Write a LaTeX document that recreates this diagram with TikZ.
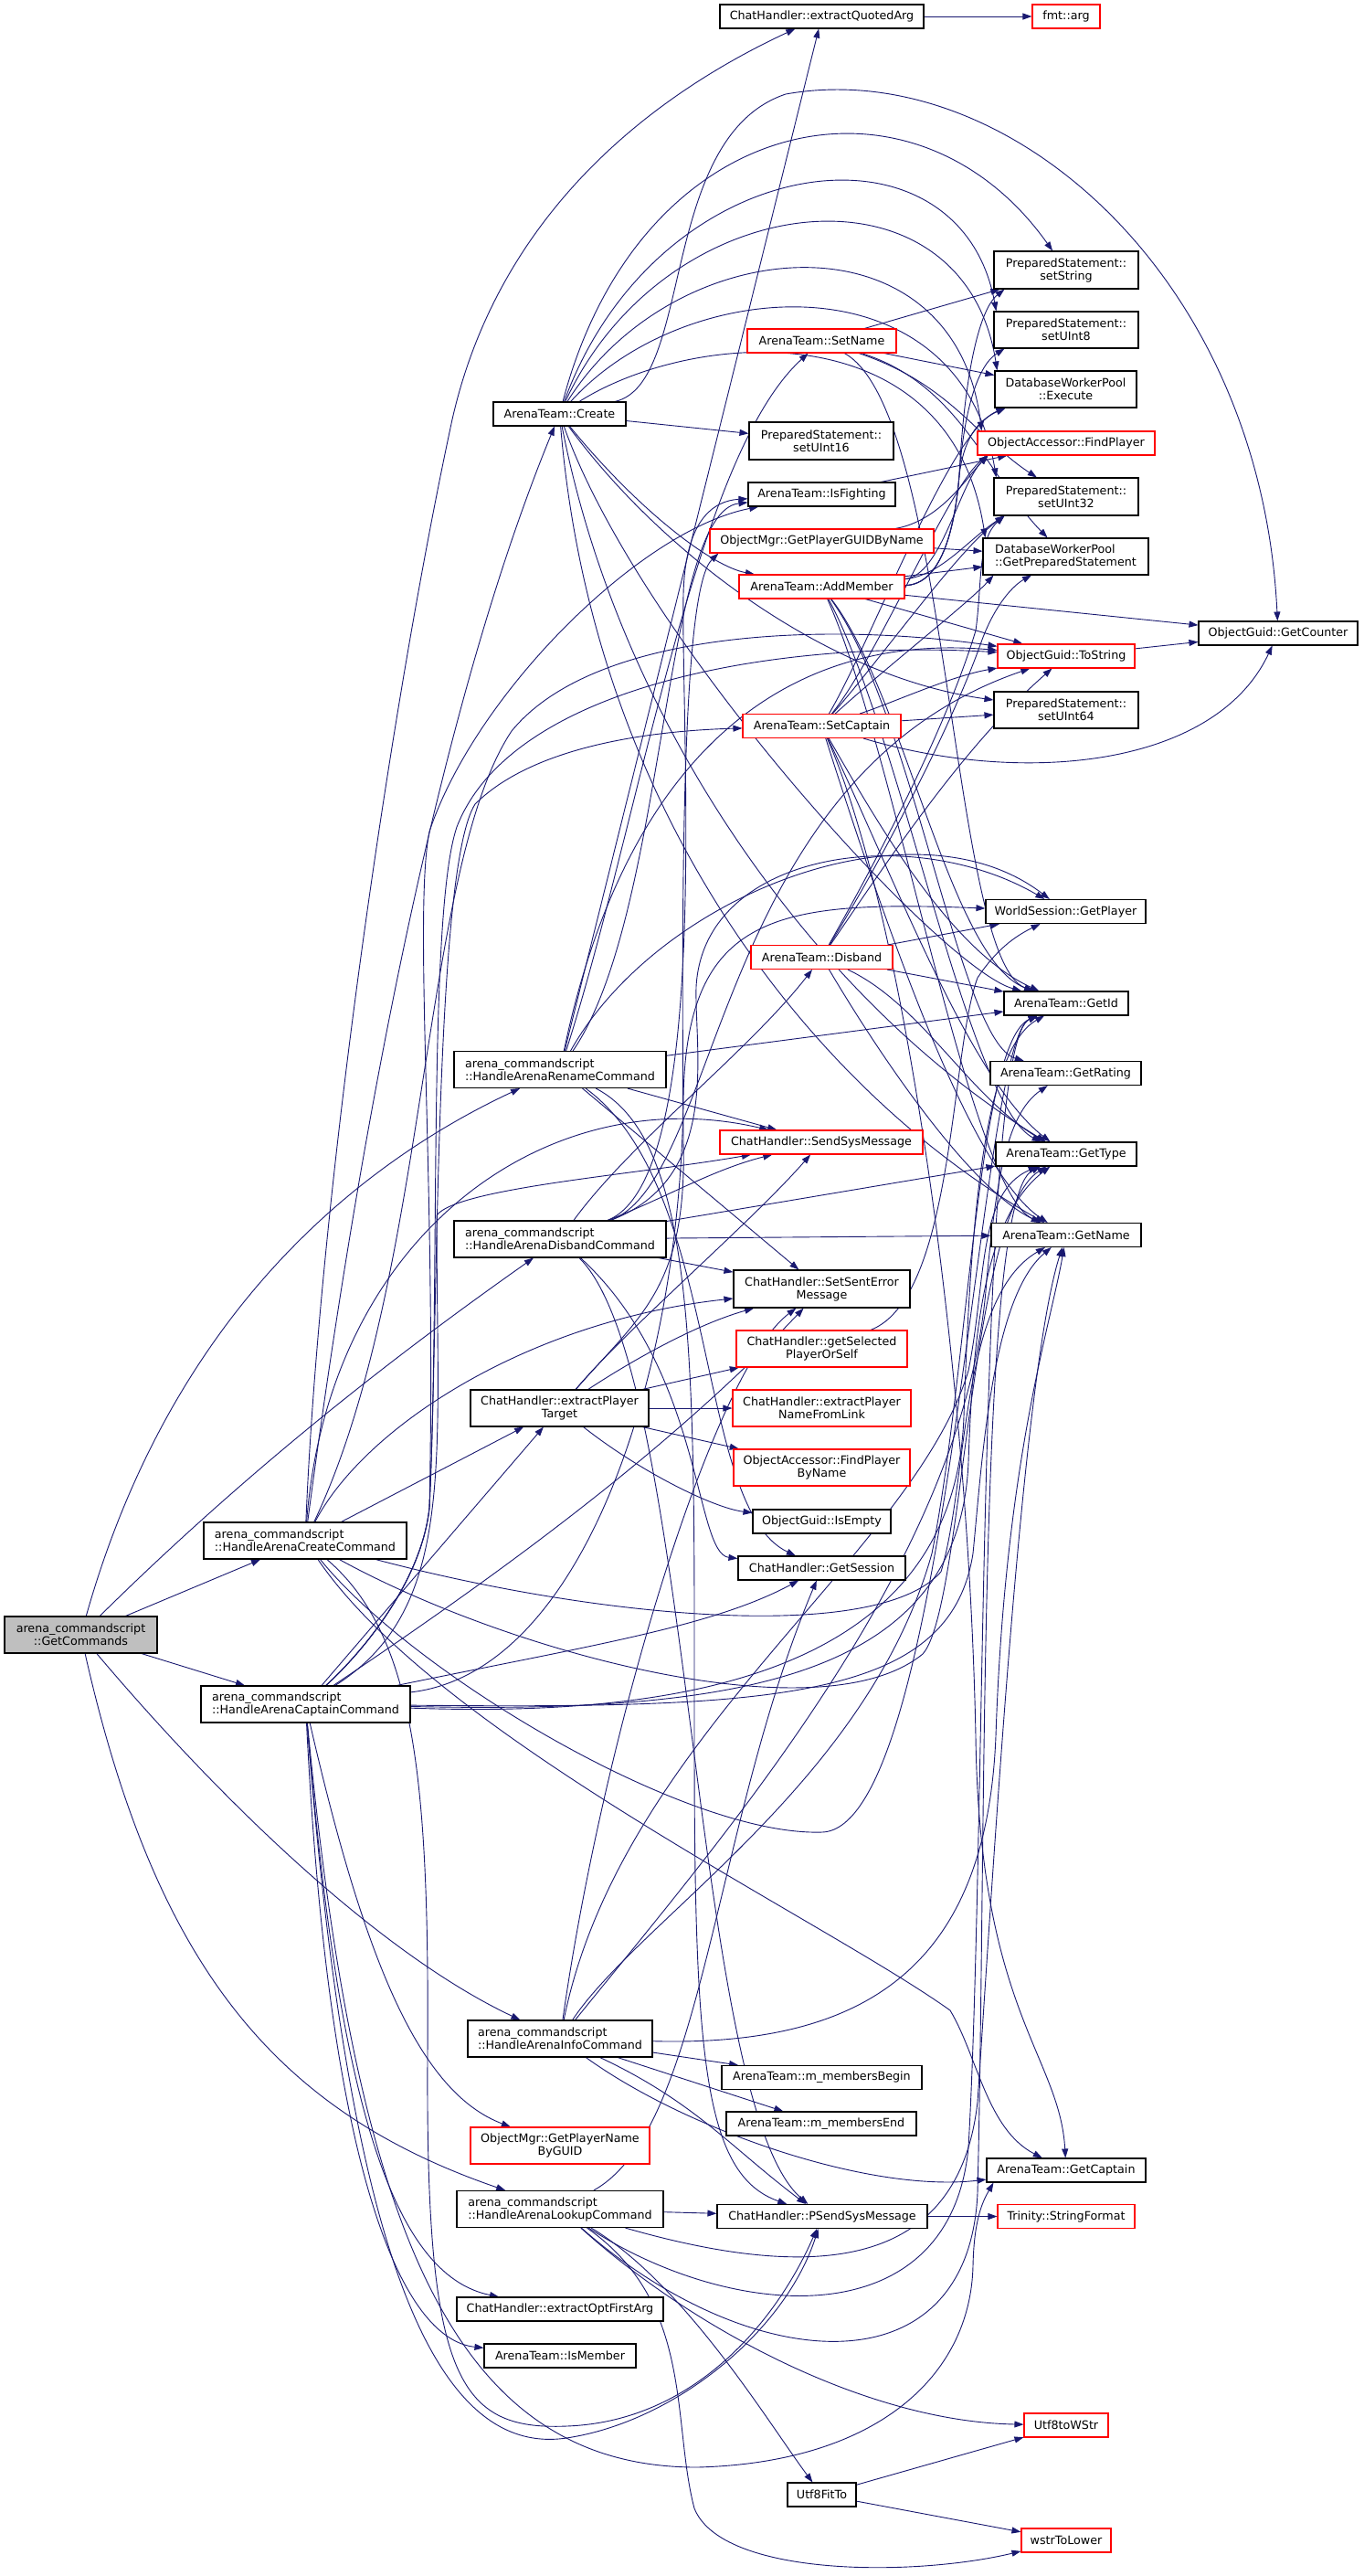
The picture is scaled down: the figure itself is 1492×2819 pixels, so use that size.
\documentclass[tikz,border=0pt]{standalone}
\usepackage{fontspec}
\setmainfont{DejaVu Sans}
\usetikzlibrary{arrows.meta}
\definecolor{edgec}{HTML}{191970}
\definecolor{nodered}{HTML}{FF0000}
\definecolor{nodegray}{HTML}{BFBFBF}
\newcommand{\dxfont}{\fontsize{12.7}{14}\selectfont}
\pgfdeclarelayer{edgelayer}
\pgfsetlayers{edgelayer,main}
\tikzset{
 nb/.style={draw=black, fill=white, line width=1.1pt, inner sep=0pt, font=\dxfont, align=center},
 rb/.style={nb, draw=nodered},
 gb/.style={nb, fill=nodegray},
 lft/.style={align=left},
 sz/.style 2 args={minimum width=#1pt, minimum height=#2pt},
 e/.style={draw=edgec, line width=0.9pt, -{Triangle[length=10pt,width=7pt]}},
}
\begin{document}
\begin{tikzpicture}[x=1pt,y=-1pt]
\useasboundingbox (0,0) rectangle (1492,2819);
% ---------- nodes ----------
\node[nb,sz={223}{26}] (qa) at (899.5,18) {ChatHandler::extractQuotedArg};
\node[rb,sz={74}{26}] (fa) at (1167,18) {fmt::arg};
\node[nb,sz={158}{41}] (sstr) at (1167,295.5) {PreparedStatement::\\setString};
\node[nb,sz={158}{40}] (s8) at (1167,361) {PreparedStatement::\\setUInt8};
\node[nb,sz={155}{40}] (exe) at (1166.5,426) {DatabaseWorkerPool\\::Execute};
\node[rb,sz={194}{26}] (fp) at (1167,485) {ObjectAccessor::FindPlayer};
\node[nb,sz={158}{41}] (s32) at (1167,543.5) {PreparedStatement::\\setUInt32};
\node[nb,lft,sz={181}{40}] (gps) at (1166.5,609) {DatabaseWorkerPool\\::GetPreparedStatement};
\node[nb,sz={174}{26}] (gcn) at (1399,693) {ObjectGuid::GetCounter};
\node[rb,sz={150}{26}] (ts) at (1167,718) {ObjectGuid::ToString};
\node[nb,sz={158}{40}] (s64) at (1167,777) {PreparedStatement::\\setUInt64};
\node[rb,sz={163}{26}] (sn) at (899.5,373) {ArenaTeam::SetName};
\node[nb,sz={145}{26}] (crt) at (612.5,453) {ArenaTeam::Create};
\node[nb,sz={158}{41}] (s16) at (899,482.5) {PreparedStatement::\\setUInt16};
\node[nb,sz={161}{26}] (isf) at (899.5,541) {ArenaTeam::IsFighting};
\node[rb,sz={245}{26}] (gpgn) at (899.5,592) {ObjectMgr::GetPlayerGUIDByName};
\node[rb,sz={181}{26}] (am) at (899.5,642) {ArenaTeam::AddMember};
\node[rb,sz={173}{26}] (sc) at (899.5,794.5) {ArenaTeam::SetCaptain};
\node[nb,sz={175}{26}] (gpl) at (1166.5,997.5) {WorldSession::GetPlayer};
\node[rb,sz={155}{26}] (db) at (899.5,1047.5) {ArenaTeam::Disband};
\node[nb,sz={136}{26}] (gid) at (1167,1098) {ArenaTeam::GetId};
\node[nb,sz={165}{26}] (grt) at (1166.5,1174.5) {ArenaTeam::GetRating};
\node[nb,lft,sz={232}{40}] (ren) at (613,1170.5) {arena\_commandscript\\::HandleArenaRenameCommand};
\node[rb,sz={222}{26}] (ssm) at (899,1250) {ChatHandler::SendSysMessage};
\node[nb,sz={154}{26}] (gty) at (1167,1263) {ArenaTeam::GetType};
\node[nb,lft,sz={232}{40}] (dis) at (613,1356) {arena\_commandscript\\::HandleArenaDisbandCommand};
\node[nb,sz={164}{26}] (gnm) at (1167,1351.5) {ArenaTeam::GetName};
\node[nb,sz={193}{41}] (ssem) at (899.5,1410.5) {ChatHandler::SetSentError\\Message};
\node[rb,sz={187}{40}] (gsp) at (899.5,1476) {ChatHandler::getSelected\\PlayerOrSelf};
\node[nb,sz={195}{40}] (ept) at (612.5,1541) {ChatHandler::extractPlayer\\Target};
\node[rb,sz={195}{40}] (npl) at (899.5,1541) {ChatHandler::extractPlayer\\NameFromLink};
\node[rb,sz={193}{40}] (fpn) at (899.5,1606) {ObjectAccessor::FindPlayer\\ByName};
\node[nb,sz={151}{26}] (ise) at (899.5,1665) {ObjectGuid::IsEmpty};
\node[nb,lft,sz={222}{40}] (cc) at (334,1686) {arena\_commandscript\\::HandleArenaCreateCommand};
\node[nb,sz={183}{26}] (gs) at (899.5,1716) {ChatHandler::GetSession};
\node[gb,sz={167}{40}] (gc) at (88.5,1789) {arena\_commandscript\\::GetCommands};
\node[nb,lft,sz={229}{40}] (cap) at (334.5,1865) {arena\_commandscript\\::HandleArenaCaptainCommand};
\node[nb,lft,sz={202}{40}] (info) at (613,2231) {arena\_commandscript\\::HandleArenaInfoCommand};
\node[nb,sz={219}{26}] (mb) at (899.5,2273.5) {ArenaTeam::m\_membersBegin};
\node[nb,sz={208}{26}] (me) at (899,2324) {ArenaTeam::m\_membersEnd};
\node[rb,sz={196}{40}] (pngb) at (613,2348) {ObjectMgr::GetPlayerName\\ByGUID};
\node[nb,sz={174}{26}] (gcap) at (1167,2375) {ArenaTeam::GetCaptain};
\node[nb,lft,sz={226}{40}] (look) at (613,2417.5) {arena\_commandscript\\::HandleArenaLookupCommand};
\node[nb,sz={230}{26}] (psm) at (900,2425.5) {ChatHandler::PSendSysMessage};
\node[rb,sz={150}{26}] (sf) at (1167,2425.5) {Trinity::StringFormat};
\node[nb,sz={226}{26}] (eofa) at (613,2527) {ChatHandler::extractOptFirstArg};
\node[nb,sz={166}{26}] (ism) at (613,2578) {ArenaTeam::IsMember};
\node[rb,sz={92}{26}] (u2w) at (1167,2654) {Utf8toWStr};
\node[nb,sz={75}{26}] (uft) at (899.5,2730) {Utf8FitTo};
\node[rb,sz={98}{26}] (wl) at (1167,2780) {wstrToLower};
% ---------- edges ----------
\begin{pgfonlayer}{edgelayer}
\fill[white] (0,0) rectangle (1492,2819);
% GetCommands
\draw[e] (gc) -- (cc);
\draw[e] (gc) -- (cap);
\draw[e] (gc) .. controls (190,1430) and (400,1270) .. (ren);
\draw[e] (gc) .. controls (300,1580) and (480,1450) .. (dis);
\draw[e] (gc) .. controls (250,1980) and (420,2140) .. (info);
\draw[e] (gc) .. controls (170,2150) and (300,2310) .. (look);
% HandleArenaCreateCommand
\draw[e] (cc) -- (ept);
\draw[e] (cc) .. controls (400,1560) and (580,1445) .. (ssem);
\draw[e] (cc) .. controls (350,1300) and (430,760) .. (495,459) .. controls (540,260) and (680,120) .. (qa);
\draw[e] (cc) .. controls (385,1300) and (470,800) .. (crt);
\draw[e] (cc) .. controls (360,1350) and (600,1180) .. (ssm);
\draw[e] (cc) .. controls (470,1400) and (460,950) .. (560,800) .. controls (650,690) and (900,680) .. (ts);
\draw[e] (cc) .. controls (650,1770) and (960,1800) .. (1030,1720) .. controls (1060,1620) and (1050,1420) .. (gnm);
\draw[e] (cc) .. controls (560,1810) and (900,1900) .. (1010,1810) .. controls (1055,1760) and (1060,1330) .. (gty);
\draw[e] (cc) .. controls (450,1830) and (750,2010) .. (900,2005) .. controls (1040,2000) and (1070,1140) .. (gid);
\draw[e] (cc) .. controls (480,1900) and (900,2100) .. (1040,2200) .. controls (1070,2250) and (1080,2330) .. (gcap);
\draw[e] (cc) .. controls (455,1790) and (470,1950) .. (468,2250) .. controls (466,2600) and (500,2660) .. (620,2655) .. controls (760,2650) and (850,2540) .. (psm);
% HandleArenaCaptainCommand
\draw[e] (cap) -- (ept);
\draw[e] (cap) .. controls (520,1740) and (720,1600) .. (ssem);
\draw[e] (cap) .. controls (650,1800) and (780,1780) .. (gs);
\draw[e] (cap) .. controls (370,2300) and (430,2490) .. (eofa);
\draw[e] (cap) .. controls (360,2380) and (440,2560) .. (ism);
\draw[e] (cap) .. controls (400,2150) and (460,2290) .. (pngb);
\draw[e] (cap) .. controls (380,2450) and (470,2690) .. (620,2668) .. controls (740,2650) and (860,2550) .. (psm);
\draw[e] (cap) .. controls (390,2450) and (500,2700) .. (763,2700) .. controls (960,2695) and (1062,2600) .. (1065,2480) .. controls (1066,2430) and (1075,2410) .. ([xshift=8pt]gcap.south west);
\draw[e] (cap) .. controls (405,1800) and (462,1725) .. (470,1650) .. controls (478,1300) and (452,1000) .. (470,910) .. controls (520,760) and (700,580) .. (isf);
\draw[e] (cap) .. controls (500,1760) and (478,1600) .. (478,1330) .. controls (500,1300) and (700,1285) .. (ssm);
\draw[e] (cap) .. controls (405,1800) and (462,1725) .. (470,1650) .. controls (480,1450) and (475,950) .. (520,880) .. controls (580,820) and (700,800) .. (sc);
\draw[e] (cap) .. controls (405,1800) and (462,1725) .. (470,1650) .. controls (482,1400) and (468,1000) .. (500,905) .. controls (560,750) and (850,700) .. (ts);
\draw[e] (cap) .. controls (640,1830) and (745,1500) .. (748,1200) .. controls (752,1000) and (850,985) .. (gpl);
\draw[e] (cap) .. controls (750,1880) and (1045,1830) .. (1055,1550) .. controls (1062,1350) and (1075,1150) .. (gid);
\draw[e] (cap) .. controls (800,1875) and (1050,1840) .. (1060,1600) .. controls (1065,1450) and (1080,1330) .. (gty);
\draw[e] (cap) .. controls (850,1870) and (1040,1860) .. (1065,1700) .. controls (1075,1600) and (1085,1420) .. (gnm);
% HandleArenaRenameCommand
\draw[e] (ren) -- (qa);
\draw[e] (ren) -- (ssm);
\draw[e] (ren) -- (ssem);
\draw[e] (ren) .. controls (765,1250) and (760,1500) .. (760,1900) .. controls (760,2250) and (770,2380) .. (psm);
\draw[e] (ren) .. controls (730,1000) and (725,560) .. (isf);
\draw[e] (ren) .. controls (700,900) and (760,500) .. (sn);
\draw[e] (ren) -- (gid);
\draw[e] (ren) .. controls (790,1300) and (760,1650) .. (gs);
\draw[e] (ren) .. controls (720,980) and (1000,870) .. (gpl);
\draw[e] (ren) .. controls (680,850) and (840,690) .. (ts);
% HandleArenaDisbandCommand
\draw[e] (dis) .. controls (730,1310) and (780,1280) .. (ssm);
\draw[e] (dis) -- (ssem);
\draw[e] (dis) -- (gnm);
\draw[e] (dis) -- (gty);
\draw[e] (dis) .. controls (690,1250) and (820,1150) .. (db);
\draw[e] (dis) .. controls (780,1290) and (745,800) .. (748,650) .. controls (750,570) and (780,548) .. (isf);
\draw[e] (dis) .. controls (770,1500) and (760,1700) .. (gs);
\draw[e] (dis) .. controls (760,1500) and (755,2300) .. (psm);
\draw[e] (dis) .. controls (790,1290) and (760,1150) .. (762,1080) .. controls (770,930) and (1000,900) .. (gpl);
\draw[e] (dis) .. controls (790,1290) and (780,850) .. (ts);
% extractPlayerTarget
\draw[e] (ept) -- (gsp);
\draw[e] (ept) -- (npl);
\draw[e] (ept) -- (fpn);
\draw[e] (ept) .. controls (700,1610) and (780,1650) .. (ise);
\draw[e] (ept) .. controls (690,1450) and (820,1340) .. (ssm);
\draw[e] (ept) .. controls (690,1490) and (760,1450) .. (ssem);
\draw[e] (ept) .. controls (700,1440) and (752,1410) .. (748,1250) .. controls (745,900) and (750,640) .. ([xshift=10pt]gpgn.south west);
% HandleArenaInfoCommand
\draw[e] (info) -- (mb);
\draw[e] (info) -- (me);
\draw[e] (info) .. controls (760,2300) and (800,2350) .. (psm);
\draw[e] (info) .. controls (750,2330) and (950,2400) .. (gcap);
\draw[e] (info) .. controls (950,2240) and (1080,2150) .. (1090,1900) .. controls (1100,1600) and (1150,1450) .. (gnm);
\draw[e] (info) .. controls (700,2100) and (950,1950) .. (1020,1700) .. controls (1060,1500) and (1070,1140) .. (gid);
\draw[e] (info) .. controls (680,1900) and (1000,1700) .. (1060,1500) .. controls (1080,1400) and (1070,1305) .. (gty);
\draw[e] (info) .. controls (800,2000) and (1060,1700) .. (1080,1400) .. controls (1090,1300) and (1100,1220) .. (grt);
\draw[e] (info) .. controls (660,1900) and (780,1500) .. (ssem);
% HandleArenaLookupCommand
\draw[e] (look) -- (psm);
\draw[e] (look) .. controls (760,2550) and (950,2650) .. (u2w);
\draw[e] (look) .. controls (760,2520) and (735,2650) .. (760,2745) .. controls (790,2820) and (1000,2820) .. (wl);
\draw[e] (look) .. controls (750,2500) and (840,2650) .. (uft);
\draw[e] (look) .. controls (770,2330) and (780,2000) .. (gs);
\draw[e] (look) .. controls (900,2500) and (1050,2480) .. (1070,2300) .. controls (1090,2000) and (1120,1500) .. (gnm);
\draw[e] (look) .. controls (800,2540) and (1040,2560) .. (1060,2350) .. controls (1080,2000) and (1070,1140) .. (gid);
\draw[e] (look) .. controls (820,2600) and (1060,2620) .. (1070,2400) .. controls (1080,2000) and (1070,1310) .. (gty);
% ArenaTeam::Disband
\draw[e] (db) -- (gpl);
\draw[e] (db) -- (gid);
\draw[e] (db) .. controls (1010,1100) and (1060,1200) .. (gty);
\draw[e] (db) .. controls (960,1150) and (1060,1300) .. (gnm);
\draw[e] (db) .. controls (960,950) and (1040,800) .. (1075,700) .. controls (1090,660) and (1110,640) .. (gps);
\draw[e] (db) .. controls (955,950) and (1035,800) .. (1068,690) .. controls (1075,640) and (1070,590) .. ([xshift=12pt]s32.south west);
\draw[e] (db) .. controls (960,960) and (1050,820) .. (ts);
% ArenaTeam::SetCaptain
\draw[e] (sc) .. controls (960,720) and (1040,530) .. ([xshift=12pt]fp.south west);
\draw[e] (sc) .. controls (965,720) and (1050,600) .. ([xshift=12pt]s32.south west);
\draw[e] (sc) .. controls (970,730) and (1060,660) .. ([xshift=12pt]gps.south west);
\draw[e] (sc) .. controls (955,700) and (1040,470) .. ([xshift=12pt]exe.south west);
\draw[e] (sc) -- (s64);
\draw[e] (sc) .. controls (1120,860) and (1330,840) .. (gcn);
\draw[e] (sc) .. controls (960,900) and (1040,1040) .. (gid);
\draw[e] (sc) .. controls (975,950) and (1060,1180) .. (gty);
\draw[e] (sc) .. controls (965,1000) and (1060,1280) .. (gnm);
\draw[e] (sc) .. controls (990,1000) and (1060,1500) .. (1068,1900) .. controls (1072,2200) and (1160,2250) .. (gcap);
\draw[e] (sc) .. controls (975,770) and (1040,740) .. (ts);
% ArenaTeam::AddMember
\draw[e] (am) .. controls (1030,640) and (1045,580) .. (1050,520) .. controls (1055,420) and (1070,340) .. ([xshift=12pt]sstr.south west);
\draw[e] (am) .. controls (1030,640) and (1045,580) .. (1050,520) .. controls (1055,450) and (1070,400) .. ([xshift=12pt]s8.south west);
\draw[e] (am) .. controls (1030,640) and (1045,580) .. (1050,520) .. controls (1055,480) and (1070,460) .. ([xshift=12pt]exe.south west);
\draw[e] (am) .. controls (1030,630) and (1050,530) .. ([xshift=12pt]fp.south west);
\draw[e] (am) .. controls (1030,630) and (1060,590) .. ([xshift=12pt]s32.south west);
\draw[e] (am) -- (gps);
\draw[e] (am) -- (gcn);
\draw[e] (am) -- (ts);
\draw[e] (am) .. controls (990,760) and (1040,1050) .. (gid);
\draw[e] (am) .. controls (1000,780) and (1050,1140) .. (grt);
\draw[e] (am) .. controls (985,800) and (1060,1210) .. (gty);
\draw[e] (am) .. controls (980,820) and (1060,1300) .. (gnm);
% ArenaTeam::SetName
\draw[e] (sn) -- (sstr);
\draw[e] (sn) -- (exe);
\draw[e] (sn) .. controls (1040,420) and (1070,480) .. (s32);
\draw[e] (sn) .. controls (1050,420) and (1080,520) .. (gps);
\draw[e] (sn) .. controls (1040,450) and (1040,1050) .. (gid);
% GetPlayerGUIDByName, IsFighting
\draw[e] (gpgn) .. controls (1030,570) and (1060,520) .. ([xshift=12pt]fp.south west);
\draw[e] (gpgn) -- (gps);
\draw[e] (isf) -- (fp);
% ArenaTeam::Create
\draw[e] (crt) .. controls (700,120) and (1000,60) .. (sstr);
\draw[e] (crt) .. controls (720,160) and (1050,120) .. ([xshift=3pt]s8.north west);
\draw[e] (crt) .. controls (730,200) and (1055,170) .. ([xshift=3pt]exe.north west);
\draw[e] (crt) .. controls (740,250) and (1045,230) .. ([xshift=5pt]fp.north west);
\draw[e] (crt) .. controls (750,300) and (1050,280) .. ([xshift=3pt]s32.north west);
\draw[e] (crt) .. controls (760,360) and (1040,340) .. ([xshift=3pt]gps.north west);
\draw[e] (crt) .. controls (760,420) and (720,150) .. (860,103) .. controls (1100,60) and (1380,300) .. (gcn);
\draw[e] (crt) -- (s16);
\draw[e] (crt) .. controls (700,560) and (780,620) .. (am);
\draw[e] (crt) .. controls (700,700) and (1030,1060) .. (gid);
\draw[e] (crt) .. controls (680,800) and (900,1100) .. (gty);
\draw[e] (crt) .. controls (650,900) and (900,1200) .. (gnm);
\draw[e] (crt) .. controls (720,600) and (900,740) .. (s64);
% misc
\draw[e] (qa) -- (fa);
\draw[e] (ts) -- (gcn);
\draw[e] (gsp) .. controls (1045,1420) and (1040,1150) .. (1070,1070) .. controls (1090,1040) and (1110,1025) .. (gpl);
\draw[e] (psm) -- (sf);
\draw[e] (uft) -- (u2w);
\draw[e] (uft) -- (wl);
\end{pgfonlayer}
\end{tikzpicture}
\end{document}
